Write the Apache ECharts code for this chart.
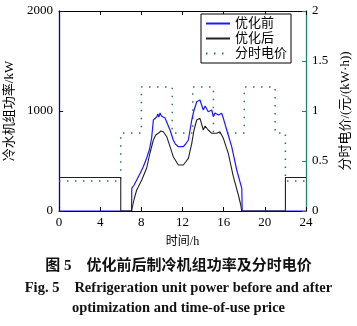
<!DOCTYPE html>
<html><head><meta charset="utf-8">
<script src="https://cdn.jsdelivr.net/npm/echarts@6/dist/echarts.min.js"></script>
<style>html,body{margin:0;padding:0;background:#fff}#c{width:357px;height:326px}</style>
</head><body><div id="c"></div>
<script>
// ---- data ----
const seriesNames = ['优化前', '优化后', '分时电价'];
const xTicks = [0, 4, 8, 12, 16, 20, 24];
const leftTicks = [0, 1000, 2000];
const rightTicks = [0, 0.5, 1, 1.5, 2];
// 优化前 (before optimization), [hour, kW]
const beforeHours = [0,7.05,7.07,7.3,7.55,7.9,8.19,8.52,8.8,9.0,9.17,9.3,9.5,9.6,9.7,9.82,9.95,10.14,10.3,10.47,10.79,11.1,11.3,11.6,12.08,12.3,12.57,12.9,13.1,13.38,13.55,13.7,14.02,14.2,14.5,14.84,15.0,15.15,15.32,15.5,15.8,15.97,16.3,16.78,17.27,17.76,17.8,24];
const beforeKW    = [0,0,227,260,310,380,443,530,620,730,910,930,943,970,940,980,950,943,930,910,810,710,670,643,643,670,710,910,1000,1093,1080,1110,1010,1050,993,1010,943,980,977,960,977,927,810,643,410,227,0,0];
// 优化后 (after optimization), [hour, kW]
const afterHours = [0,6,6,7.05,7.3,7.55,8.04,8.52,8.84,9.17,9.4,9.65,9.9,10.14,10.3,10.47,10.79,11.1,11.6,12.08,12.3,12.57,12.9,13.1,13.38,13.7,14.02,14.2,14.5,14.84,15.0,15.32,15.64,15.97,16.45,16.94,17.43,17.66,17.75,22,22,24];
const afterKW    = [335,335,0,0,120,210,310,430,580,710,760,777,800,793,780,743,643,543,460,460,490,527,677,800,910,927,810,850,810,777,790,777,793,727,577,343,160,60,0,0,335,335];
// 分时电价 (TOU price), value starting at each hour
const priceHours = [0,6,8,11,13,15,18,21,22,24];
const priceVals  = [0.3,0.78,1.24,0.78,1.24,0.78,1.24,0.78,0.3,0.3];

const zip = (a, b) => a.map((v, i) => [v, b[i]]);
const serif = "'Liberation Serif','Times New Roman',serif";
const mixed = "'Liberation Serif','Noto Sans CJK SC',serif";

const chart = echarts.init(document.getElementById('c'), null, {renderer: 'canvas'});
chart.setOption({
  animation: false,
  backgroundColor: '#fff',
  grid: {left: 59, top: 11, width: 247, height: 200, containLabel: false, outerBoundsMode: 'none'},
  legend: {
    orient: 'vertical', left: 201, top: 14, itemWidth: 24, itemHeight: 8, itemGap: 2,
    padding: [3, 4, 3, 4], borderColor: '#000', borderWidth: 1, backgroundColor: '#fff',
    itemStyle: {opacity: 0},
    textStyle: {fontFamily: mixed, fontSize: 13, color: '#000'},
    data: seriesNames.map(n => ({name: n}))
  },
  xAxis: [{
    type: 'value', min: 0, max: 24, interval: 4, position: 'bottom',
    name: '时间/h', nameLocation: 'middle', nameGap: 25,
    nameTextStyle: {fontFamily: mixed, fontSize: 12, color: '#000'},
    axisLine: {onZero: false, lineStyle: {color: '#000', width: 1}},
    axisTick: {inside: true, length: 4, lineStyle: {color: '#000'}},
    axisLabel: {fontFamily: serif, fontSize: 13, color: '#000', margin: 5, formatter: v => String(v)},
    splitLine: {show: false}
  }, {
    type: 'value', min: 0, max: 24, interval: 4, position: 'top',
    axisLine: {onZero: false, lineStyle: {color: '#000', width: 1}},
    axisTick: {inside: true, length: 4, lineStyle: {color: '#000'}},
    axisLabel: {show: false}, splitLine: {show: false}
  }],
  yAxis: [{
    type: 'value', min: 0, max: 2000, interval: 1000, position: 'left',
    name: '冷水机组功率/kW', nameLocation: 'middle', nameGap: 38,
    nameTextStyle: {fontFamily: mixed, fontSize: 13, color: '#000'},
    axisLine: {show: true, onZero: false, lineStyle: {color: '#0000b0', width: 1.3}},
    axisTick: {inside: true, length: 4, lineStyle: {color: '#0000b0'}},
    axisLabel: {fontFamily: serif, fontSize: 13, color: '#000', margin: 6, formatter: v => String(v)},
    splitLine: {show: false}
  }, {
    type: 'value', min: 0, max: 2, interval: 0.5, position: 'right',
    name: '分时电价/(元/(kW·h))', nameLocation: 'middle', nameGap: 30,
    nameTextStyle: {fontFamily: mixed, fontSize: 13, color: '#000'},
    axisLine: {show: true, onZero: false, lineStyle: {color: '#1a8a6a', width: 1.3}},
    axisTick: {inside: true, length: 4, lineStyle: {color: '#1a8a6a'}},
    axisLabel: {fontFamily: serif, fontSize: 13, color: '#000', margin: 6,
      formatter: v => String(v)},
    splitLine: {show: false}
  }],
  series: [{
    name: seriesNames[0], type: 'line', xAxisIndex: 0, yAxisIndex: 0,
    data: zip(beforeHours, beforeKW), symbol: 'none', z: 3,
    lineStyle: {color: '#1a1aff', width: 1.2}, itemStyle: {color: '#1a1aff'}
  }, {
    name: seriesNames[1], type: 'line', xAxisIndex: 0, yAxisIndex: 0,
    data: zip(afterHours, afterKW), symbol: 'none', z: 4,
    lineStyle: {color: '#222', width: 1.1}, itemStyle: {color: '#222'}
  }, {
    name: seriesNames[2], type: 'line', xAxisIndex: 0, yAxisIndex: 1, step: 'end',
    data: zip(priceHours, priceVals), symbol: 'none', z: 2,
    lineStyle: {color: '#2a7a4a', width: 1.5, type: [1.5, 6.5]}, itemStyle: {color: '#2a7a4a'}
  }],
  graphic: [
    {type: 'text', left: 'center', top: 259, style: {text: '图 5　优化前后制冷机组功率及分时电价', font: "bold 15px 'Liberation Serif','Noto Sans CJK SC'", fill: '#111'}},
    {type: 'text', left: 'center', top: 281, style: {text: 'Fig. 5　Refrigeration unit power before and after', font: "bold 14.5px 'Liberation Serif'", fill: '#111'}},
    {type: 'text', left: 'center', top: 301, style: {text: 'optimization and time-of-use price', font: "bold 14.5px 'Liberation Serif'", fill: '#111'}}
  ]
});
</script></body></html>
